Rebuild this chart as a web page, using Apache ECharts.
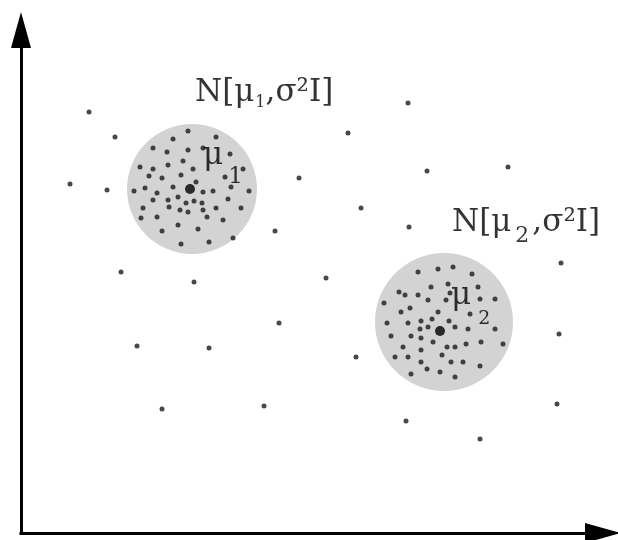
<!DOCTYPE html>
<html>
<head>
<meta charset="utf-8">
<script src="https://cdn.jsdelivr.net/npm/echarts@6/dist/echarts.min.js"></script>
<style>html,body{margin:0;padding:0;background:#fff;}#c{width:618px;height:540px;}</style>
</head>
<body>
<div id="c"></div>
<script>
// Background scatter points (x from vertical axis, y up from horizontal axis)
const backgroundPoints = [
  [68,421],[94,396],[49,349],[86,343],[327,400],[278,355],[340,325],[254,302],
  [100,261],[173,251],[305,255],[258,210],[116,187],[188,185],[335,176],[141,124],
  [243,127],[387,430],[406,362],[487,366],[388,306],[540,270],[538,199],[536,129],
  [385,112],[459,94]
];
// Cluster 1 points
const cluster1Points = [
  [167,402],[152,394],[195,396],[132,385],[146,381],[167,383],[182,385],[209,379],
  [162,372],[147,368],[119,366],[132,364],[172,364],[222,364],[128,357],[141,355],
  [160,358],[204,356],[175,351],[152,346],[124,345],[113,342],[182,341],[192,342],
  [210,346],[228,342],[136,340],[132,333],[147,333],[157,336],[165,330],[173,332],
  [181,330],[207,334],[122,325],[148,326],[159,323],[167,321],[182,323],[195,325],
  [220,325],[120,315],[136,316],[186,316],[202,313],[157,308],[177,304],[141,302],
  [212,295],[160,289],[188,291]
];
// Cluster 2 points
const cluster2Points = [
  [397,261],[417,264],[432,266],[451,259],[410,246],[427,249],[457,246],[378,241],
  [384,238],[397,238],[407,233],[425,233],[429,240],[459,234],[474,234],[363,230],
  [389,225],[380,221],[417,221],[449,219],[400,212],[411,214],[428,212],[366,210],
  [387,210],[399,204],[407,206],[434,206],[447,204],[474,204],[370,197],[390,197],
  [400,195],[412,191],[426,186],[434,186],[445,189],[460,191],[482,189],[382,186],
  [400,183],[374,176],[387,176],[421,178],[430,171],[442,171],[400,171],[459,167],
  [406,164],[419,161],[390,159],[434,156]
];
// Means (big dots)
const means = [[169,344],[419,202]];
// Gaussian discs: centre x, centre y, radius
const discs = [[171,344,65],[423,211,69]];
// Text labels: anchor x, anchor y, text
const distLabels = [
  [174,440,'N[μ{a|1},σ²I]'],
  [431,310,'N[μ{b|2},σ²I]']
];
const meanLabels = [
  [182,377,'{m|μ}{c|1}'],
  [430,237,'{m|μ}{d|2}']
];

const chart = echarts.init(document.getElementById('c'), null, {renderer:'canvas'});
const arrowPath = 'path://M10,0 L20,36 L0,36 Z';
const serif = 'DejaVu Serif';
const labelRich = {
  a: {fontSize: 16, fontFamily: serif, color: '#000', padding: [19,0,0,1]},
  b: {fontSize: 22, fontFamily: serif, color: '#000', padding: [27,3,0,4]},
  m: {fontSize: 31, fontFamily: serif, color: '#000'},
  c: {fontSize: 23, fontFamily: serif, color: '#000', padding: [43,0,0,5]},
  d: {fontSize: 19, fontFamily: serif, color: '#000', padding: [46,0,0,7]}
};
chart.setOption({
  backgroundColor: '#fff',
  animation: false,
  grid: {left: 21, right: 15, top: 30, bottom: 7},
  xAxis: {
    type: 'value', min: 0, max: 582,
    axisLine: {show: true, onZero: false, symbol: ['none', arrowPath], symbolSize: [22, 36],
      lineStyle: {color: '#000', width: 3, cap: 'square'}},
    axisTick: {show: false}, axisLabel: {show: false}, splitLine: {show: false}
  },
  yAxis: {
    type: 'value', min: 0, max: 503,
    axisLine: {show: true, onZero: false, symbol: ['none', arrowPath], symbolSize: [22, 36],
      lineStyle: {color: '#000', width: 3, cap: 'square'}},
    axisTick: {show: false}, axisLabel: {show: false}, splitLine: {show: false}
  },
  series: [
    {
      type: 'custom', data: discs, z: 1, silent: true,
      renderItem: function (params, api) {
        const c = api.coord([api.value(0), api.value(1)]);
        const r = api.size([api.value(2), 0])[0];
        return {type: 'circle', shape: {cx: c[0], cy: c[1], r: r}, style: {fill: '#d3d3d3'}};
      }
    },
    {type: 'scatter', data: backgroundPoints, symbolSize: 5, itemStyle: {color: '#1a1a1a'}, z: 3},
    {type: 'scatter', data: cluster1Points, symbolSize: 5, itemStyle: {color: '#1a1a1a'}, z: 3},
    {type: 'scatter', data: cluster2Points, symbolSize: 5, itemStyle: {color: '#1a1a1a'}, z: 3},
    {type: 'scatter', data: means, symbolSize: 10, itemStyle: {color: '#000'}, z: 4},
    {
      type: 'scatter', data: distLabels, symbolSize: 0, z: 5, silent: true,
      label: {show: true, position: 'right', distance: 0, color: '#000',
        fontFamily: serif, fontSize: 31,
        formatter: function (p) { return p.value[2]; }, rich: labelRich}
    },
    {
      type: 'scatter', data: meanLabels, symbolSize: 0, z: 5, silent: true,
      label: {show: true, position: 'right', distance: 0, color: '#000',
        fontFamily: serif, fontSize: 31,
        formatter: function (p) { return p.value[2]; }, rich: labelRich}
    }
  ]
});
</script>
</body>
</html>
